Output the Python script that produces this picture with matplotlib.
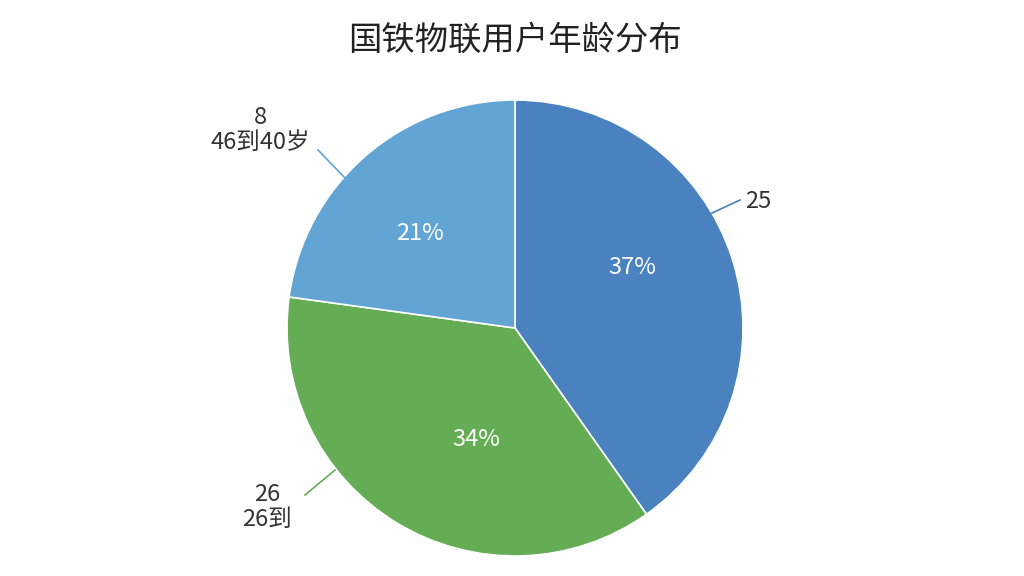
import matplotlib
matplotlib.use("Agg")
import matplotlib.pyplot as plt

plt.rcParams['font.family'] = ['Noto Sans CJK SC', 'DejaVu Sans']

categories = ["25", "26\n26到", "8\n46到40岁"]
values = [37, 34, 21]
pct_labels = ["37%", "34%", "21%"]
colors = ["#4a81bf", "#65ad55", "#62a4d3"]

fig = plt.figure(figsize=(10.24, 5.76), dpi=100)
ax = fig.add_axes([0, 0, 1, 1])
cx, cy = 515, 328

ax.pie(values, colors=colors, startangle=90, counterclock=False, radius=228,
       wedgeprops=dict(edgecolor='white', linewidth=1.2))
ax.set_xlim(-cx, 1024 - cx)
ax.set_ylim(-(576 - cy), cy)
ax.set_aspect('equal')
ax.axis('off')

def P(x, y):
    return x - cx, cy - y

inner = [(632, 268), (476, 440), (420, 233)]
for (x, y), t in zip(inner, pct_labels):
    ax.text(*P(x, y), t, color='white', fontsize=17, ha='center', va='center')

lines = [((712, 213), (740, 200)), ((335, 470), (305, 495)), ((345, 178), (318, 150))]
for (a, b), c in zip(lines, colors):
    ax.plot(*zip(P(*a), P(*b)), color=c, lw=1.2)

ax.text(*P(745, 202), categories[0], fontsize=17, ha='left', va='center', color='#333333')
ax.text(*P(292, 507), categories[1], fontsize=17, ha='right', va='center', color='#333333',
        multialignment='center', linespacing=1.1)
ax.text(*P(310, 130), categories[2], fontsize=17, ha='right', va='center', color='#333333',
        multialignment='center', linespacing=1.1)

ax.text(*P(515, 40), "国铁物联用户年龄分布", fontsize=24, ha='center', va='center', color='#222222')

fig.savefig("out.png", dpi=100)
